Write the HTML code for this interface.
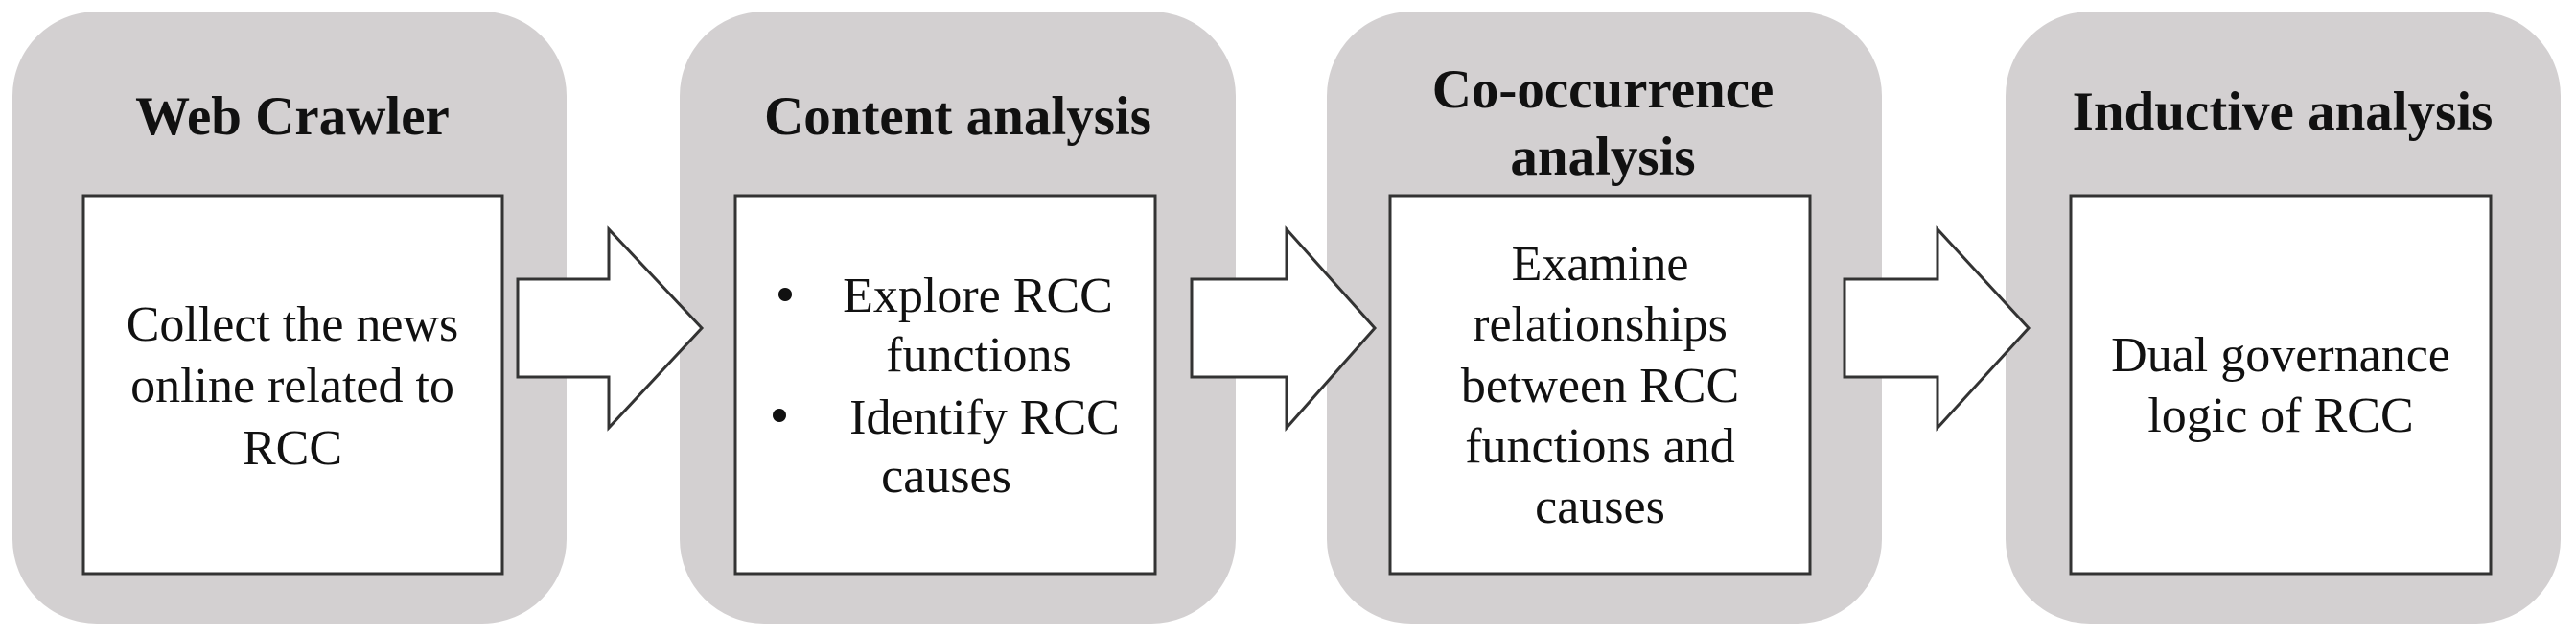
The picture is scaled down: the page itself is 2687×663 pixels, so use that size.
<!DOCTYPE html>
<html><head><meta charset="utf-8"><style>
html,body{margin:0;padding:0;background:#fff;}
svg{display:block;}
text{font-family:"Liberation Serif",serif;fill:#111;}
.t{font-weight:bold;font-size:57px;}
.b{font-size:52px;}
</style></head><body>
<svg width="2687" height="663" viewBox="0 0 2687 663">
<g fill="#d3d0d1">
<rect x="13" y="12" width="578" height="638" rx="88" ry="88"/>
<rect x="709" y="12" width="580" height="638" rx="88" ry="88"/>
<rect x="1384" y="12" width="579" height="638" rx="88" ry="88"/>
<rect x="2092" y="12" width="579" height="638" rx="88" ry="88"/>
</g>
<g fill="#fff" stroke="#333" stroke-width="3">
<rect x="87" y="204" width="437" height="394"/>
<rect x="767" y="204" width="438" height="394"/>
<rect x="1450" y="204" width="438" height="394"/>
<rect x="2160" y="204" width="438" height="394"/>
<polygon points="540,291 635,291 635,239 732,342 635,446 635,393 540,393"/>
<polygon points="1243,291 1342,291 1342,239 1434,342 1342,446 1342,393 1243,393"/>
<polygon points="1924,291 2021,291 2021,239 2116,342 2021,446 2021,393 1924,393"/>
</g>
<g text-anchor="middle">
<text class="t" x="305" y="140">Web Crawler</text>
<text class="t" x="999" y="140">Content analysis</text>
<text class="t" x="1672" y="112">Co-occurrence</text>
<text class="t" x="1672" y="182">analysis</text>
<text class="t" x="2381" y="135">Inductive analysis</text>
<text class="b" x="305" y="355">Collect the news</text>
<text class="b" x="305" y="419">online related to</text>
<text class="b" x="305" y="484">RCC</text>
<text class="b" x="1669" y="292">Examine</text>
<text class="b" x="1669" y="355">relationships</text>
<text class="b" x="1669" y="419">between RCC</text>
<text class="b" x="1669" y="482">functions and</text>
<text class="b" x="1669" y="545">causes</text>
<text class="b" x="2379" y="387">Dual governance</text>
<text class="b" x="2379" y="450">logic of RCC</text>
<text class="b" x="1020" y="325">Explore RCC</text>
<text class="b" x="1021" y="387">functions</text>
<text class="b" x="1027" y="452">Identify RCC</text>
<text class="b" x="987" y="513">causes</text>
</g>
<circle cx="819" cy="307" r="7" fill="#111"/>
<circle cx="813" cy="433" r="7" fill="#111"/>
</svg>
</body></html>
